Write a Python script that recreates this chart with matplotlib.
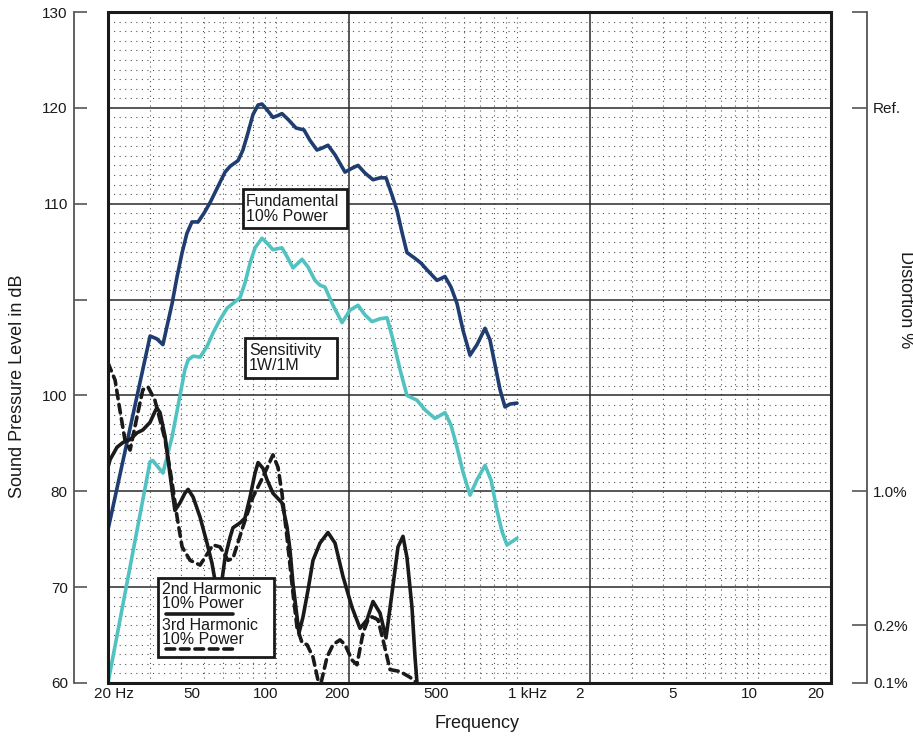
import matplotlib
matplotlib.use('Agg')
import matplotlib.pyplot as plt
from matplotlib.patches import Rectangle
from matplotlib.lines import Line2D
from matplotlib.ticker import NullLocator, NullFormatter
from matplotlib.transforms import blended_transform_factory, offset_copy

plt.rcParams['font.family'] = ['Liberation Sans', 'DejaVu Sans']

# --- data: frequency (Hz) and level on the chart's 60..130 scale ---------
fund_f = [20, 29.9, 31.9, 33.8, 36.9, 38.7, 40.6, 42.5, 44.6, 47.3, 50.0, 53.0,
          57.2, 61.2, 64.2, 69.3, 72.6, 76.2, 79.9, 83.9, 87.1, 91.4, 96.7,
          101.5, 105.4, 111.7, 120.5, 130.1, 137.8, 147.3, 154.5, 163.6, 175.0,
          192.5, 205.8, 218, 233, 251.6, 269, 284.8, 301.7, 316.4, 331.9, 348,
          375.8, 398, 421.4, 463.6, 500.4, 530, 561.2, 594.4, 635.6, 679.5,
          733.6, 769, 807, 846.6, 887.8, 931, 995.8]
fund_db = [76.0, 96.2, 95.9, 95.3, 99.6, 102.4, 104.9, 106.9, 108.1, 108.1, 109.0,
           110.1, 111.8, 113.3, 113.9, 114.5, 115.6, 117.4, 119.3, 120.3, 120.4,
           119.8, 119.0, 119.2, 119.4, 118.8, 117.9, 117.7, 116.6, 115.6, 115.8,
           116.1, 115.1, 113.3, 113.7, 114.0, 113.2, 112.5, 112.7, 112.7, 110.9,
           109.3, 107.0, 104.9, 104.3, 103.8, 103.1, 102.0, 102.4, 101.3, 99.6,
           96.8, 94.2, 95.3, 97.0, 95.8, 93.2, 90.6, 88.8, 89.1, 89.2]

sens_f = [20, 29.9, 30.7, 33.8, 36.9, 39.8, 41.7, 43.0, 45.1, 48.2, 51.5, 54.5,
          58.3, 62.4, 66.0, 70.6, 74.0, 77.7, 81.5, 87.1, 91.4, 96.7, 105.4,
          111.7, 117.1, 127.7, 135.2, 144.5, 151.6, 159.0, 171.7, 187.1, 202,
          218, 233, 249.2, 269, 287.6, 304.6, 325.6, 348, 383, 413.4, 454.8,
          500.4, 530, 561.2, 594.4, 635.6, 679.5, 733.6, 776.6, 822.4, 862.9,
          905, 995.8]
sens_db = [60.0, 83.1, 83.2, 81.9, 85.7, 90.0, 92.7, 93.7, 94.1, 94.0, 95.1, 96.5,
           97.9, 99.1, 99.6, 100.2, 101.7, 103.8, 105.4, 106.4, 105.9, 105.2,
           105.4, 104.3, 103.3, 104.2, 103.4, 102.0, 101.5, 101.3, 99.4, 97.6,
           98.9, 99.4, 98.4, 97.7, 98.0, 98.1, 95.8, 92.7, 90.0, 89.5, 88.5,
           87.6, 88.2, 86.9, 84.6, 82.0, 79.6, 81.2, 82.7, 81.2, 78.0, 75.8,
           74.4, 75.1]

h2_f = [20, 20.4, 21.8, 23.1, 24.7, 26.4, 27.9, 29.9, 31.3, 31.9, 32.9, 34.5,
        35.5, 36.9, 37.9, 39.8, 41.7, 43.0, 45.1, 48.2, 51.5, 54.0, 55.6, 57.2,
        59.4, 61.2, 64.2, 66.0, 70.6, 74.0, 77.7, 81.5, 83.9, 87.9, 91.4, 96.7,
        105.4, 110.6, 113.8, 117.1, 121.7, 124.0, 128.9, 135.2, 141.8, 151.6,
        163.6, 175.0, 188.9, 205.8, 222.2, 237.6, 251.6, 269, 284.8, 301.7,
        319.4, 335, 348, 365, 375.8, 383]
h2_db = [82.5, 83.3, 84.6, 85.1, 85.4, 86.1, 86.4, 87.2, 88.3, 88.7, 88.2, 85.7,
         83.3, 80.1, 78.0, 78.8, 79.8, 80.2, 79.4, 77.3, 74.6, 72.5, 70.7, 68.7,
         70.7, 73.1, 75.2, 76.2, 76.7, 77.2, 79.4, 81.9, 83.0, 82.4, 81.2, 79.8,
         78.8, 76.3, 73.9, 70.4, 66.9, 65.2, 66.9, 69.7, 72.8, 74.6, 75.7, 74.6,
         71.1, 67.9, 65.7, 66.6, 68.5, 67.3, 64.7, 69.4, 74.2, 75.3, 73.1, 67.9,
         62.7, 60.0]

h3_f = [20, 21.4, 22.4, 23.5, 24.7, 26.4, 27.9, 29.3, 31.3, 34.5, 36.9, 38.7,
        40.6, 43.8, 48.2, 54.5, 58.3, 63.0, 66.0, 72.6, 79.9, 87.9, 96.7, 101.5,
        105.4, 110.6, 117.1, 121.7, 127.7, 133.9, 141.8, 148.7, 153.1, 162.1,
        171.7, 183.6, 192.5, 205.8, 215.8, 228.6, 239.8, 249.2, 263.8, 276.8,
        296, 325.6, 358.2, 383]
h3_db = [93.4, 91.6, 88.5, 85.4, 84.3, 87.8, 90.6, 90.9, 89.5, 85.4, 80.9, 77.3,
         74.2, 72.8, 72.3, 74.4, 74.2, 72.8, 73.0, 76.3, 79.4, 81.5, 83.8, 82.5,
         79.8, 75.2, 69.4, 65.8, 64.2, 64.0, 62.7, 60.3, 60.0, 62.7, 64.0, 64.5,
         64.0, 62.4, 61.9, 65.2, 66.6, 66.9, 66.6, 64.5, 61.4, 61.2, 60.6, 60.0]

y_ticks = [60, 70, 80, 90, 100, 110, 120, 130]
y_labels = ['60', '70', '80', '100', '', '110', '120', '130']
x_freqs = [20, 50, 100, 200, 500, 1000, 2000, 5000, 10000, 20000]
x_labels = ['20 Hz', '50', '100', '200', '500', '1 kHz', '2', '5', '10', '20']
x_shift = [6, -12, -11, -12, -9, 10, -11, -13, -9, -15]   # px, as printed
dist_pos = [130, 120, 80, 66, 60]
dist_labels = ['', 'Ref.', '1.0%', '0.2%', '0.1%']

NAVY = '#1f3d70'
TEAL = '#52c2c0'
INK = '#1a1a1a'
GRID = '#555555'

W, H = 913, 738
fig = plt.figure(figsize=(W / 100, H / 100), dpi=100)
ax = fig.add_axes([108 / W, 55 / H, 723 / W, 671 / H])
ax.set_xscale('log')
ax.set_xlim(20, 20000)
ax.set_ylim(60, 130)

# grid
minor_f = [k * 10 ** n for n in (1, 2, 3, 4) for k in range(1, 10)]
minor_f = [f for f in minor_f if 20 < f < 20000 and f not in (200, 2000)]
ax.vlines(minor_f, 60, 130, colors=GRID, lw=0.8, linestyles=(0, (1, 3.4)), zorder=1)
ax.vlines([200, 2000], 60, 130, colors='#2a2a2a', lw=1.1, zorder=1)
minor_y = [v for v in range(61, 130) if v % 10]
ax.hlines(minor_y, 20, 20000, colors=GRID, lw=0.8, linestyles=(0, (1, 4.0)), zorder=1)
ax.hlines(range(70, 130, 10), 20, 20000, colors='#2a2a2a', lw=1.1, zorder=1)

# curves
kw = dict(lw=2.6, solid_joinstyle='round', solid_capstyle='round', zorder=3)
ax.plot(fund_f, fund_db, color=NAVY, **kw)
ax.plot(sens_f, sens_db, color=TEAL, **kw)
ax.plot(h2_f, h2_db, color=INK, **kw)
ax.plot(h3_f, h3_db, color=INK, lw=2.6, ls=(0, (2.4, 1.6)),
        dash_capstyle='round', dash_joinstyle='round', zorder=3)

# frame
ax.add_patch(Rectangle((0, 0), 1, 1, transform=ax.transAxes, fill=False,
                       lw=2.2, ec=INK, zorder=6, clip_on=False))
for s in ('top', 'right', 'bottom'):
    ax.spines[s].set_visible(False)

# left scale
ax.spines['left'].set_position(('outward', 34 * 0.72))
ax.spines['left'].set_color('#555555')
ax.spines['left'].set_linewidth(1.3)
ax.set_yticks(y_ticks)
ax.set_yticklabels(y_labels)
ax.tick_params(axis='y', direction='in', length=9.4, width=1.2, color='#555555',
               pad=4.5, labelsize=11, labelcolor=INK)

# frequency labels
ax.xaxis.set_major_locator(NullLocator())
ax.xaxis.set_minor_locator(NullLocator())
ax.xaxis.set_minor_formatter(NullFormatter())
btrans = blended_transform_factory(ax.transData, ax.transAxes)
for f, lab, dx in zip(x_freqs, x_labels, x_shift):
    ax.text(f, 0, lab, transform=offset_copy(btrans, fig=fig, x=dx, y=-11, units='dots'),
            ha='center', va='center', fontsize=11, color=INK, clip_on=False)

# right distortion scale
ax2 = ax.twinx()
ax2.set_ylim(60, 130)
for s in ('top', 'left', 'bottom'):
    ax2.spines[s].set_visible(False)
ax2.spines['right'].set_position(('outward', 36 * 0.72))
ax2.spines['right'].set_color('#555555')
ax2.spines['right'].set_linewidth(1.3)
ax2.set_yticks(dist_pos)
ax2.set_yticklabels(dist_labels)
ax2.tick_params(axis='y', direction='in', length=10.8, width=1.2, color='#555555',
                pad=4.5, labelsize=11, labelcolor=INK)

# annotation boxes
def box(x0, x1, y0, y1):
    ax.add_patch(Rectangle(((x0 - 108) / 723, (683 - y1) / 671),
                           (x1 - x0) / 723, (y1 - y0) / 671,
                           transform=ax.transAxes, fc='white', ec=INK, lw=2.0,
                           zorder=7, clip_on=False))

def label(x, y, s):
    ax.text((x - 108) / 723, (683 - y) / 671, s, transform=ax.transAxes,
            ha='left', va='center', fontsize=11.5, color=INK, zorder=8,
            linespacing=0.95)

box(243, 347, 189, 228)
label(246, 209, 'Fundamental\n10% Power')
box(245, 337, 338, 378)
label(249, 358, 'Sensitivity\n1W/1M')
box(158, 274, 578, 657)
label(162, 589, '2nd Harmonic')
label(162, 604, '10% Power')
label(162, 625, '3rd Harmonic')
label(162, 640, '10% Power')
ax.add_line(Line2D([(166 - 108) / 723, (233 - 108) / 723], [(683 - 614) / 671] * 2,
                   transform=ax.transAxes, color=INK, lw=2.6, solid_capstyle='round',
                   zorder=8, clip_on=False))
ax.add_line(Line2D([(166 - 108) / 723, (233 - 108) / 723], [(683 - 649) / 671] * 2,
                   transform=ax.transAxes, color=INK, lw=2.6, ls=(0, (2.4, 1.6)),
                   dash_capstyle='round', zorder=8, clip_on=False))

# axis titles
fig.text(477 / W, 1 - 723 / H, 'Frequency', ha='center', va='center',
         fontsize=13, color=INK)
fig.text(18 / W, 1 - 386 / H, 'Sound Pressure Level in dB', rotation=90,
         ha='center', va='center', fontsize=13, color=INK)
fig.text(897 / W, 1 - 300 / H, 'Distortion %', rotation=-90,
         ha='left', va='center', fontsize=13, color=INK)

fig.savefig('out.png', dpi=100)
